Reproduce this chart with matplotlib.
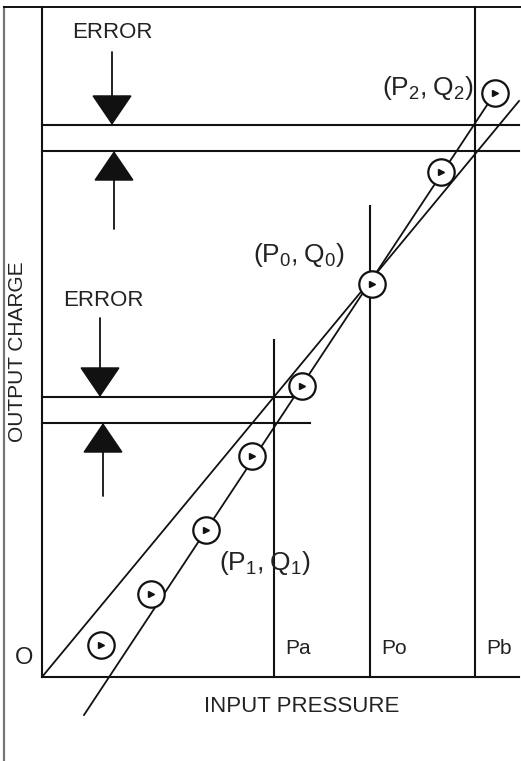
import matplotlib
matplotlib.use("Agg")
import matplotlib.pyplot as plt

plt.rcParams['font.family'] = ['Liberation Sans', 'DejaVu Sans']
plt.rcParams['mathtext.fontset'] = 'custom'
plt.rcParams['mathtext.rm'] = 'Liberation Sans'

# ---- data (input pressure, output charge) in diagram units ----
point_p = [59, 109, 164, 210, 260, 330, 399, 453]
point_q = [32, 83, 147, 221, 291, 393, 505, 584]

zero_line_p = [0, 477]
zero_line_q = [0, 576]
term_line_p = [42, 453]
term_line_q = [-38, 584]

pressure_names = ["Pa", "Po", "Pb"]
pressure_vals = [232, 328, 433]
pressure_tops = [337, 471, 670]

error_top = [552, 526]
error_low = [280, 254]

labels = ["(P$_2$,\u2009Q$_2$)", "(P$_0$,\u2009Q$_0$)", "(P$_1$,\u2009Q$_1$)"]

W, H = 521, 761
fig = plt.figure(figsize=(W / 100, H / 100), dpi=100)
ax = fig.add_axes([0, 0, 1, 1])
ax.set_xlim(-42, W - 42)
ax.set_ylim(677 - H, 677)
ax.axis('off')

lw = 1.5
k = '#111111'
tc = '#222222'

# frame
ax.plot([-38, -38], [670, 677 - H], color='#777777', lw=1.6)
ax.plot([-38, W - 42], [670, 670], color=k, lw=1.4)

# axes
ax.plot([0, 0], [0, 670], color=k, lw=lw)
ax.plot([0, 477], [0, 0], color=k, lw=lw)

# vertical pressure lines + labels
for name, p, top in zip(pressure_names, pressure_vals, pressure_tops):
    ax.plot([p, p], [0, top], color=k, lw=lw)
    ax.text(p + 11, 28, name, fontsize=15, ha='left', va='center', color=tc)

# error horizontal lines
for q in error_top:
    ax.plot([0, 477], [q, q], color=k, lw=lw)
for q in error_low:
    ax.plot([0, 268], [q, q], color=k, lw=lw)

# characteristic lines
ax.plot(zero_line_p, zero_line_q, color=k, lw=1.3)
ax.plot(term_line_p, term_line_q, color=k, lw=1.3)

# data points
ax.plot(point_p, point_q, 'o', ms=19, mfc='white', mec=k, mew=1.6, zorder=5)
ax.plot(point_p, point_q, '>', ms=5, color=k, zorder=6)

# error arrows
def arrow(x, y0, y1):
    ax.annotate('', xy=(x, y1), xytext=(x, y0),
                arrowprops=dict(arrowstyle='-|>,head_length=1.4,head_width=0.95',
                                color=k, lw=1.3, shrinkA=0, shrinkB=0,
                                mutation_scale=14))

arrow(70, 625, 552)
arrow(72, 448, 526)
arrow(58, 359, 280)
arrow(61, 181, 254)

# texts
ax.text(70.5, 644, "ERROR", fontsize=16, ha='center', va='center', color=tc)
ax.text(61, 377, "ERROR", fontsize=16, ha='center', va='center', color=tc)
ax.text(431, 589, labels[0], fontsize=19, ha='right', va='center', color=tc)
ax.text(257, 422, labels[1], fontsize=19, ha='center', va='center', color=tc)
ax.text(222.5, 114, labels[2], fontsize=19, ha='center', va='center', color=tc)
ax.text(-24.5, 325, "OUTPUT CHARGE", fontsize=15, rotation=90, ha='center', va='center',
        color=tc)
ax.text(-18, 19, "O", fontsize=17, ha='center', va='center', color=tc)
ax.text(259.5, -30, "INPUT PRESSURE", fontsize=16, ha='center', va='center', color=tc)

fig.savefig("out.png", dpi=100)
